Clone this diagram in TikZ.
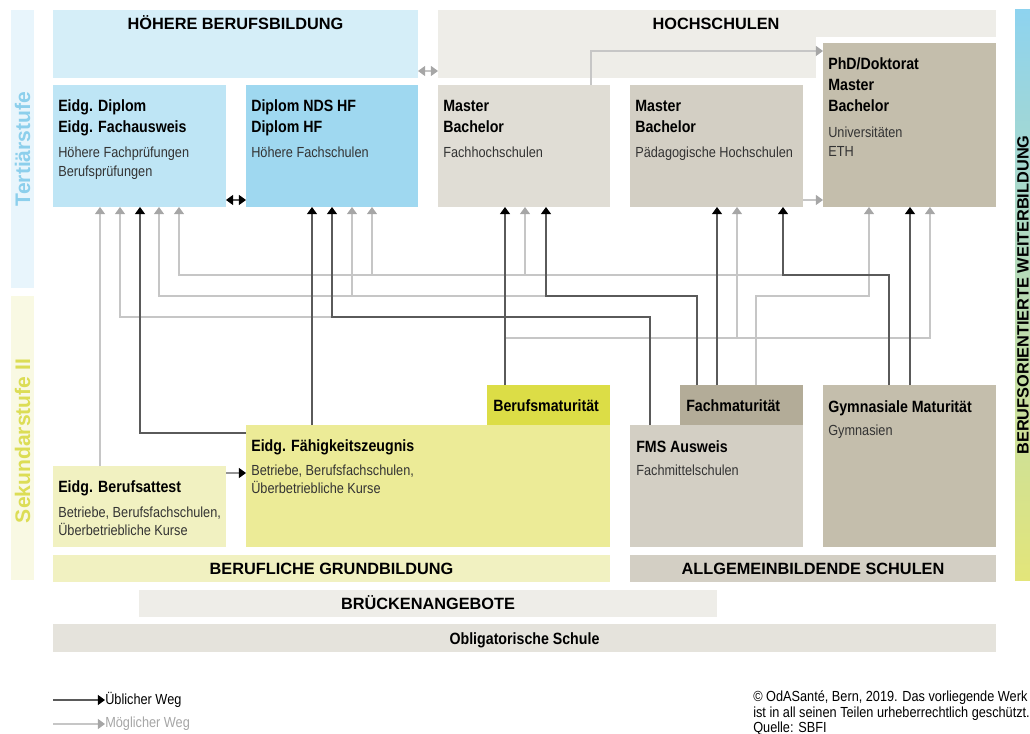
\documentclass[tikz,border=0pt]{standalone}
\usepackage{fontspec}
\setmainfont{Liberation Sans}
\newfontfamily\narrowsans[FakeStretch=0.87]{Liberation Sans}
\usetikzlibrary{arrows.meta,calc,fit}

\definecolor{tertstrip}{HTML}{E8F5FC}
\definecolor{terttext}{HTML}{8CCFEC}
\definecolor{sekstrip}{HTML}{F9F9E3}
\definecolor{sektext}{HTML}{DCDD55}
\definecolor{hbbfill}{HTML}{D5EEF8}
\definecolor{hsfill}{HTML}{EEEDE8}
\definecolor{diplfill}{HTML}{BEE5F5}
\definecolor{hffill}{HTML}{9FD8F0}
\definecolor{fhfill}{HTML}{E0DDD5}
\definecolor{phfill}{HTML}{D3CFC4}
\definecolor{unifill}{HTML}{C4BEAC}
\definecolor{bmfill}{HTML}{DCDD46}
\definecolor{efzfill}{HTML}{ECEB97}
\definecolor{attfill}{HTML}{F1F1C1}
\definecolor{fmfill}{HTML}{B3AC98}
\definecolor{oblfill}{HTML}{E5E3DC}
\definecolor{wbtop}{HTML}{8ED3EF}
\definecolor{wbmid}{HTML}{BADFB4}
\definecolor{wbbottom}{HTML}{E3E57A}
\definecolor{subtext}{HTML}{333333}
\definecolor{usualline}{HTML}{5A5A5A}
\definecolor{maybeline}{HTML}{C6C6C6}
\definecolor{greytip}{HTML}{A6A6A6}

\tikzset{
  area/.style={inner sep=0pt, outer sep=0pt, draw=none},
  ttl/.style={anchor=base west, inner sep=0pt, text=black,
    font=\narrowsans\bfseries\fontsize{11.6}{14}\selectfont},
  sub/.style={anchor=base west, inner sep=0pt, text=subtext,
    font=\narrowsans\fontsize{10.4}{12}\selectfont},
  head/.style={anchor=base, inner sep=0pt, font=\bfseries\fontsize{11.6}{14}\selectfont},
  side/.style={rotate=90, inner sep=0pt, font=\bfseries\fontsize{15}{18}\selectfont},
  usualtip/.tip={Triangle[width=7pt,length=5pt,color=black]},
  maybetip/.tip={Triangle[width=7pt,length=5pt,color=greytip]},
  usual/.style={draw=usualline, line width=1pt, -usualtip},
  maybe/.style={draw=maybeline, line width=1pt, -maybetip},
  usualboth/.style={draw=usualline, line width=1pt, usualtip-usualtip},
  maybeboth/.style={draw=maybeline, line width=1pt, maybetip-maybetip},
}

\begin{document}
\begin{tikzpicture}[x=0.025cm, y=-0.025cm]
  \useasboundingbox (0,0) rectangle (1030,734);
  \clip (0,0) rectangle (1030,734);

  %%% stages at the sides
  \node[area, fill=tertstrip, fit={(11,10) (34,288)}] (tert) {};
  \node[side, text=terttext] at (tert.center) {Tertiärstufe};
  \node[area, fill=sekstrip, fit={(11,296) (34,580)}] (sek) {};
  \node[side, text=sektext] at ($(sek.center)+(0,3)$) {Sekundarstufe II};
  \shade[top color=wbtop, middle color=wbmid, bottom color=wbbottom] (1015,10) rectangle (1040,580);
  \node[head, rotate=90, anchor=north] (wb) at (1017,295) {BERUFSORIENTIERTE WEITERBILDUNG};

  %%% tertiary level
  \node[area, fill=hbbfill, fit={(53,10) (418,78)}] (hbb) {};
  \node[head] at ($(hbb.north)+(0,19.5)$) {HÖHERE BERUFSBILDUNG};
  \node[area, fill=hsfill, fit={(438,10) (816,78)}] (hs) {};
  \fill[hsfill] (815,10) rectangle (996,37);
  \node[head] at ($(hs.north west)+(278,19.5)$) {HOCHSCHULEN};

  \node[area, fill=diplfill, fit={(53,85) (226,207)}] (dipl) {};
  \node[ttl] at ($(dipl.north west)+(5,27)$) {Eidg. Diplom};
  \node[ttl] at ($(dipl.north west)+(5,48)$) {Eidg. Fachausweis};
  \node[sub] at ($(dipl.north west)+(5,73)$) {Höhere Fachprüfungen};
  \node[sub] at ($(dipl.north west)+(5,92)$) {Berufsprüfungen};

  \node[area, fill=hffill, fit={(246,85) (418,207)}] (hf) {};
  \node[ttl] at ($(hf.north west)+(5,27)$) {Diplom NDS HF};
  \node[ttl] at ($(hf.north west)+(5,48)$) {Diplom HF};
  \node[sub] at ($(hf.north west)+(5,73)$) {Höhere Fachschulen};

  \node[area, fill=fhfill, fit={(438,85) (610,207)}] (fh) {};
  \node[ttl] at ($(fh.north west)+(5,27)$) {Master};
  \node[ttl] at ($(fh.north west)+(5,48)$) {Bachelor};
  \node[sub] at ($(fh.north west)+(5,73)$) {Fachhochschulen};

  \node[area, fill=phfill, fit={(630,85) (803,207)}] (ph) {};
  \node[ttl] at ($(ph.north west)+(5,27)$) {Master};
  \node[ttl] at ($(ph.north west)+(5,48)$) {Bachelor};
  \node[sub] at ($(ph.north west)+(5,73)$) {Pädagogische Hochschulen};

  \node[area, fill=unifill, fit={(823,43) (996,207)}] (uni) {};
  \node[ttl] at ($(uni.north west)+(5,27)$) {PhD/Doktorat};
  \node[ttl] at ($(uni.north west)+(5,48)$) {Master};
  \node[ttl] at ($(uni.north west)+(5,69)$) {Bachelor};
  \node[sub] at ($(uni.north west)+(5,95)$) {Universitäten};
  \node[sub] at ($(uni.north west)+(5,114)$) {ETH};

  %%% secondary level II
  \node[area, fill=bmfill, fit={(487,385) (610,425)}] (bm) {};
  \node[ttl] at ($(bm.north west)+(6,26)$) {Berufsmaturität};
  \node[area, fill=efzfill, fit={(246,425) (610,547)}] (efz) {};
  \node[ttl] at ($(efz.north west)+(5,26)$) {Eidg. Fähigkeitszeugnis};
  \node[sub] at ($(efz.north west)+(5,50)$) {Betriebe, Berufsfachschulen,};
  \node[sub] at ($(efz.north west)+(5,68)$) {Überbetriebliche Kurse};

  \node[area, fill=attfill, fit={(53,466) (226,547)}] (att) {};
  \node[ttl] at ($(att.north west)+(5,26)$) {Eidg. Berufsattest};
  \node[sub] at ($(att.north west)+(5,51)$) {Betriebe, Berufsfachschulen,};
  \node[sub] at ($(att.north west)+(5,69)$) {Überbetriebliche Kurse};

  \node[area, fill=phfill, fit={(630,425) (803,547)}] (fms) {};
  \node[ttl] at ($(fms.north west)+(6,27)$) {FMS Ausweis};
  \node[sub] at ($(fms.north west)+(6,50)$) {Fachmittelschulen};
  \node[area, fill=fmfill, fit={(680,385) (803,425)}] (fm) {};
  \node[ttl] at ($(fm.north west)+(6,26)$) {Fachmaturität};

  \node[area, fill=unifill, fit={(823,385) (996,547)}] (gym) {};
  \node[ttl] at ($(gym.north west)+(5,27)$) {Gymnasiale Maturität};
  \node[sub] at ($(gym.north west)+(5,50)$) {Gymnasien};

  \node[area, fill=attfill, fit={(53,555) (610,582)}] (bgb) {};
  \node[head] at ($(bgb.center)+(0,5.5)$) {BERUFLICHE GRUNDBILDUNG};
  \node[area, fill=phfill, fit={(630,555) (996,582)}] (abs) {};
  \node[head] at ($(abs.center)+(0,5.5)$) {ALLGEMEINBILDENDE SCHULEN};
  \node[area, fill=hsfill, fit={(139,590) (717,617)}] (bra) {};
  \node[head] at ($(bra.center)+(0,5.5)$) {BRÜCKENANGEBOTE};
  \node[area, fill=oblfill, fit={(53,624) (996,652)}] (obl) {};
  \node[ttl, anchor=base] at ($(obl.center)+(0,6)$) {Obligatorische Schule};

  %%% possible ways (grey) first
  \draw[maybe] ($(att.north west)+(47,0)$) -- ($(dipl.south west)+(47,0)$);
  \draw[maybe] ($(ph.south west)+(153,68)$) -| ($(dipl.south west)+(126,0)$);
  \draw[maybe] ($(hf.south west)+(126,68)$) -- ($(hf.south west)+(126,0)$);
  \draw[maybe] ($(fh.south west)+(87,68)$) -- ($(fh.south west)+(87,0)$);
  \draw[maybe] ($(fh.south west)+(108,89)$) -| ($(dipl.south west)+(106,0)$);
  \draw[maybe] ($(hf.south west)+(106,89)$) -- ($(hf.south west)+(106,0)$);
  \draw[maybe] ($(hf.south west)+(86,110)$) -| ($(dipl.south west)+(67,0)$);
  \draw[maybe] ($(bm.north west)+(18,-47)$) -| ($(uni.south west)+(107,0)$);
  \draw[maybe] ($(ph.south west)+(107,131)$) -- ($(ph.south west)+(107,0)$);
  \draw[maybe] ($(fm.north west)+(76,0)$) |- ($(uni.south west)+(46,89)$) -- ($(uni.south west)+(46,0)$);
  \draw[maybe] ($(fh.north west)+(153,0)$) |- ($(uni.north west)+(0,8)$);
  \draw[maybe] ($(ph.south east)+(0,-7)$) -- ($(uni.south west)+(0,-7)$);
  \draw[maybeboth] ($(hbb.south east)+(0,-7)$) -- ($(hs.south west)+(0,-7)$);

  %%% usual ways (black)
  \draw[usual] ($(efz.north west)+(0,8)$) -| ($(dipl.south west)+(87,0)$);
  \draw[usual] ($(efz.north west)+(66,0)$) -- ($(hf.south west)+(66,0)$);
  \draw[usual] ($(att.north east)+(0,7)$) -- ($(efz.north west)+(0,48)$);
  \draw[usual] ($(bm.north west)+(18,0)$) -- ($(fh.south west)+(67,0)$);
  \draw[usual] ($(fms.north west)+(20,0)$) |- ($(hf.south west)+(86,110)$) -- ($(hf.south west)+(86,0)$);
  \draw[usual] ($(fm.north west)+(17,0)$) |- ($(fh.south west)+(108,89)$) -- ($(fh.south west)+(108,0)$);
  \draw[usual] ($(fm.north west)+(37,0)$) -- ($(ph.south west)+(87,0)$);
  \draw[usual] ($(gym.north west)+(66,0)$) |- ($(ph.south west)+(153,68)$) -- ($(ph.south west)+(153,0)$);
  \draw[usual] ($(gym.north west)+(87,0)$) -- ($(uni.south west)+(87,0)$);
  \draw[usualboth] ($(dipl.south east)+(0,-7)$) -- ($(hf.south west)+(0,-7)$);

  %%% legend and source
  \coordinate (uwstart) at (53,700);
  \node[sub, anchor=west, text=black] (uwtxt) at (105,700) {Üblicher Weg};
  \draw[usual] (uwstart) -- (uwtxt.west);
  \coordinate (mwstart) at (53,724);
  \node[sub, anchor=west, text=greytip] (mwtxt) at (105,724) {Möglicher Weg};
  \draw[maybe] (mwstart) -- (mwtxt.west);

  \node[sub, text=black] (src1) at (753,701.5) {© OdASanté, Bern, 2019. Das vorliegende Werk};
  \node[sub, text=black] (src2) at (753,717.5) {ist in all seinen Teilen urheberrechtlich geschützt.};
  \node[sub, text=black] (src3) at (753,732.5) {Quelle: SBFI};
\end{tikzpicture}
\end{document}
